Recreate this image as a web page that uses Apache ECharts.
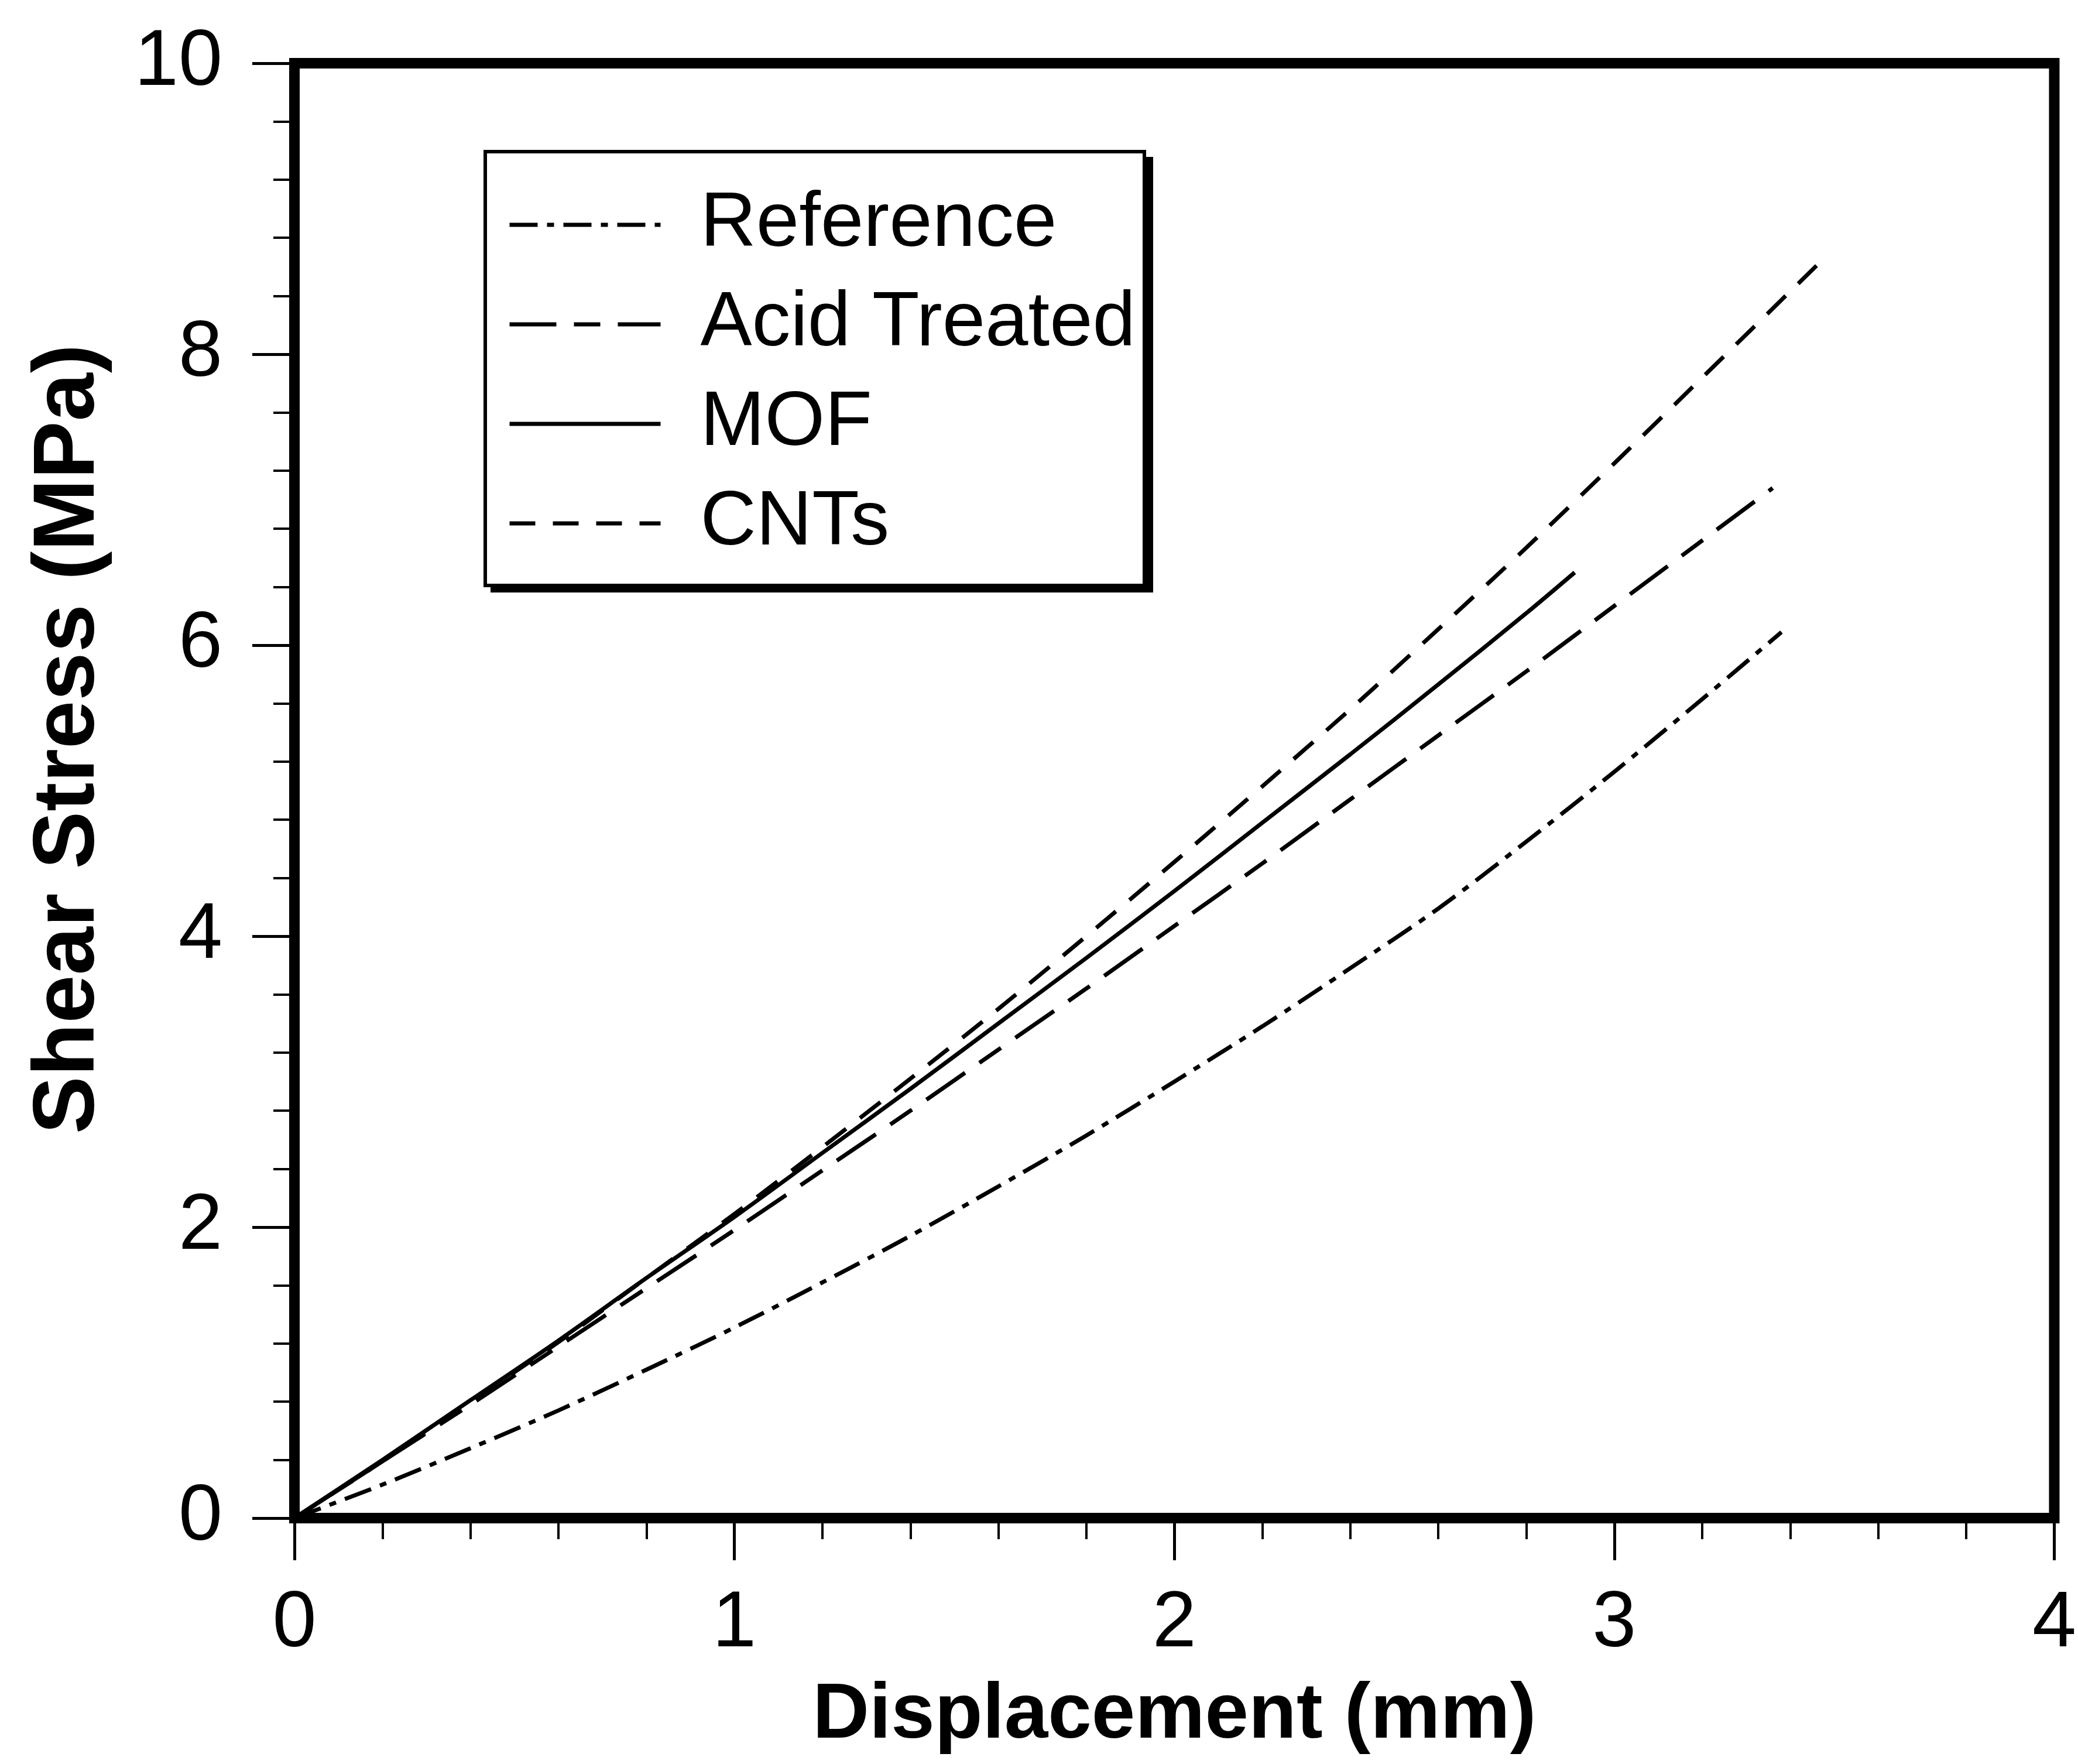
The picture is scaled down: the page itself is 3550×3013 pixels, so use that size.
<!DOCTYPE html>
<html>
<head>
<meta charset="utf-8">
<script src="https://cdn.jsdelivr.net/npm/echarts@6/dist/echarts.min.js"></script>
<style>
html,body{margin:0;padding:0;background:#fff;}
#c{width:3550px;height:3013px;}
</style>
</head>
<body>
<div id="c"></div>
<script>
// ---- data ----
const seriesNames = ['Reference', 'Acid Treated', 'MOF', 'CNTs'];
const refX  = [0, 0.2, 0.4, 0.6, 0.8, 1.0, 1.2, 1.4, 1.6, 1.8, 2.0, 2.2, 2.4, 2.6, 2.8, 3.0, 3.2, 3.38];
const refY  = [0, 0.23, 0.48, 0.74, 1.02, 1.31, 1.62, 1.94, 2.28, 2.63, 3.00, 3.38, 3.78, 4.19, 4.65, 5.13, 5.63, 6.09];
const acidX = [0, 0.2, 0.4, 0.6, 0.8, 1.0, 1.2, 1.4, 1.6, 1.8, 2.0, 2.2, 2.4, 2.6, 2.8, 3.0, 3.2, 3.36];
const acidY = [0, 0.39, 0.78, 1.18, 1.58, 1.98, 2.39, 2.80, 3.22, 3.64, 4.07, 4.50, 4.94, 5.38, 5.82, 6.27, 6.72, 7.08];
const mofX  = [0, 0.2, 0.4, 0.6, 0.8, 1.0, 1.2, 1.4, 1.6, 1.8, 2.0, 2.2, 2.4, 2.6, 2.8, 2.91];
const mofY  = [0, 0.40, 0.81, 1.22, 1.65, 2.07, 2.51, 2.95, 3.40, 3.85, 4.31, 4.78, 5.25, 5.73, 6.22, 6.50];
const cntX  = [0, 0.2, 0.4, 0.6, 0.8, 1.0, 1.2, 1.4, 1.6, 1.8, 2.0, 2.2, 2.4, 2.6, 2.8, 3.0, 3.2, 3.46];
const cntY  = [0, 0.39, 0.80, 1.21, 1.65, 2.09, 2.55, 3.02, 3.50, 4.00, 4.51, 5.03, 5.56, 6.11, 6.67, 7.25, 7.84, 8.61];
const xTicks = [0, 1, 2, 3, 4];
const yTicks = [0, 2, 4, 6, 8, 10];

const font = "'Liberation Sans', Arial, sans-serif";
const pairs = (xs, ys) => xs.map((x, i) => [x, ys[i]]);

const dashTypes = [[48, 16, 12, 16], [80, 30, 45, 30], 'solid', [44, 30]];
const dataSets = [pairs(refX, refY), pairs(acidX, acidY), pairs(mofX, mofY), pairs(cntX, cntY)];

const chart = echarts.init(document.getElementById('c'), null, {renderer: 'canvas'});
chart.setOption({
  backgroundColor: '#fff',
  animation: false,
  grid: {left: 503, right: 37, top: 108, bottom: 420, show: true, borderColor: '#000', borderWidth: 18, backgroundColor: 'transparent'},
  graphic: [
    {type: 'rect', z: 3, z2: 0, shape: {x: 838, y: 268, width: 1132, height: 744}, style: {fill: '#000'}},
    {type: 'rect', z: 3, z2: 1, shape: {x: 829, y: 259, width: 1126, height: 741}, style: {fill: '#fff', stroke: '#000', lineWidth: 6}}
  ],
  legend: {
    left: 826, top: 256, z: 10,
    orient: 'vertical',
    padding: [62, 20, 42, 41],
    itemWidth: 258, itemHeight: 14, itemGap: 38,
    backgroundColor: 'transparent', borderWidth: 0,
    itemStyle: {opacity: 0},
    lineStyle: {width: 7},
    data: seriesNames,
    textStyle: {fontFamily: font, fontSize: 132, color: '#000', padding: [0, 0, 0, 63]}
  },
  xAxis: {
    type: 'value', min: 0, max: 4, interval: 1,
    name: 'Displacement (mm)', nameLocation: 'middle', nameGap: 271,
    nameTextStyle: {fontFamily: font, fontSize: 134, fontWeight: 'bold', color: '#000'},
    axisLine: {show: false},
    axisTick: {show: true, inside: false, length: 72, lineStyle: {color: '#000', width: 5}},
    minorTick: {show: true, splitNumber: 5, length: 36, lineStyle: {color: '#000', width: 4}},
    splitLine: {show: false},
    axisLabel: {fontFamily: font, fontSize: 135, color: '#000', margin: 114, showMaxLabel: true}
  },
  yAxis: {
    type: 'value', min: 0, max: 10, interval: 2,
    name: 'Shear Stress (MPa)', nameLocation: 'middle', nameGap: 310,
    nameTextStyle: {fontFamily: font, fontSize: 148, fontWeight: 'bold', color: '#000', padding: [0, 0, 0, 176]},
    axisLine: {show: false},
    axisTick: {show: true, inside: false, length: 72, lineStyle: {color: '#000', width: 5}},
    minorTick: {show: true, splitNumber: 5, length: 36, lineStyle: {color: '#000', width: 4}},
    splitLine: {show: false},
    axisLabel: {fontFamily: font, fontSize: 135, color: '#000', margin: 123, showMaxLabel: true}
  },
  series: seriesNames.map((n, i) => ({
    name: n, type: 'line', data: dataSets[i], showSymbol: false, symbol: 'none',
    smooth: 0.3,
    lineStyle: {color: '#000', width: 7, type: dashTypes[i]},
    itemStyle: {color: '#000'}
  }))
});
</script>
</body>
</html>
